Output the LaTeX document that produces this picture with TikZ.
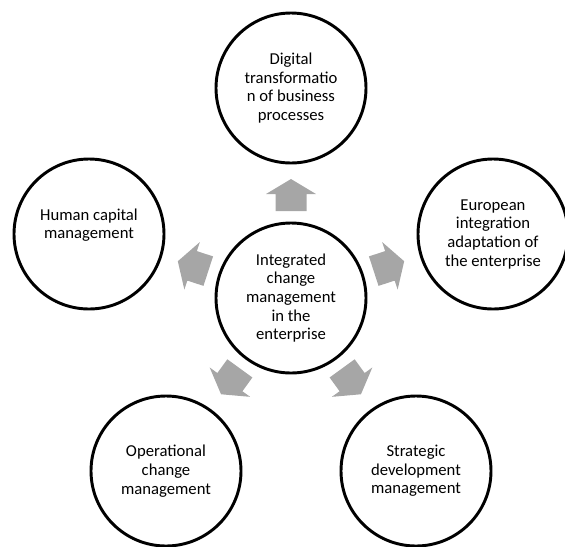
\documentclass[tikz,border=0pt]{standalone}
\usepackage{fontspec}
\setmainfont{Carlito}
\definecolor{arrowgray}{RGB}{166,166,166}
\begin{document}
\begin{tikzpicture}[x=0.75pt,y=-0.75pt,
  ring/.style={circle, draw=black, line width=2.2pt, minimum size=112.5pt, inner sep=0pt},
  caption/.style={align=center, font=\fontsize{12.5}{14}\selectfont, inner sep=0pt},
  blockarrow/.style={fill=arrowgray, draw=none}]
\useasboundingbox (0,0) rectangle (565,547);

% hub and the five surrounding topics
\node[ring] (ctr) at (291,298) {};
\node[ring] (dig) at (291,88)  {};
\node[ring] (eur) at (493,234) {};
\node[ring] (hum) at (89,234)  {};
\node[ring] (ope) at (166,471) {};
\node[ring] (str) at (416,471) {};

% labels
\node[caption] (t-ctr) at (ctr) {Integrated\\change\\management\\in the\\enterprise};
\node[caption] (t-dig) at (dig) {Digital\\transformatio\\n of business\\processes};
\node[caption] (t-eur) at (eur) {European\\integration\\adaptation of\\the enterprise};
\node[caption, yshift=6.75pt] (t-hum) at (hum) {Human capital\\management};
\node[caption] (t-ope) at (ope) {Operational\\change\\management};
\node[caption] (t-str) at (str) {Strategic\\development\\management};

% block arrows pointing outwards from the hub
\foreach \a in {90,18,162,234,306}{
  \fill[blockarrow, shift={(ctr.center)}, rotate=\a]
    (87,-15.5) -- (104,-15.5) -- (104,-25) -- (119,0) -- (104,25) -- (104,15.5) -- (87,15.5) -- cycle;
}
\end{tikzpicture}
\end{document}
